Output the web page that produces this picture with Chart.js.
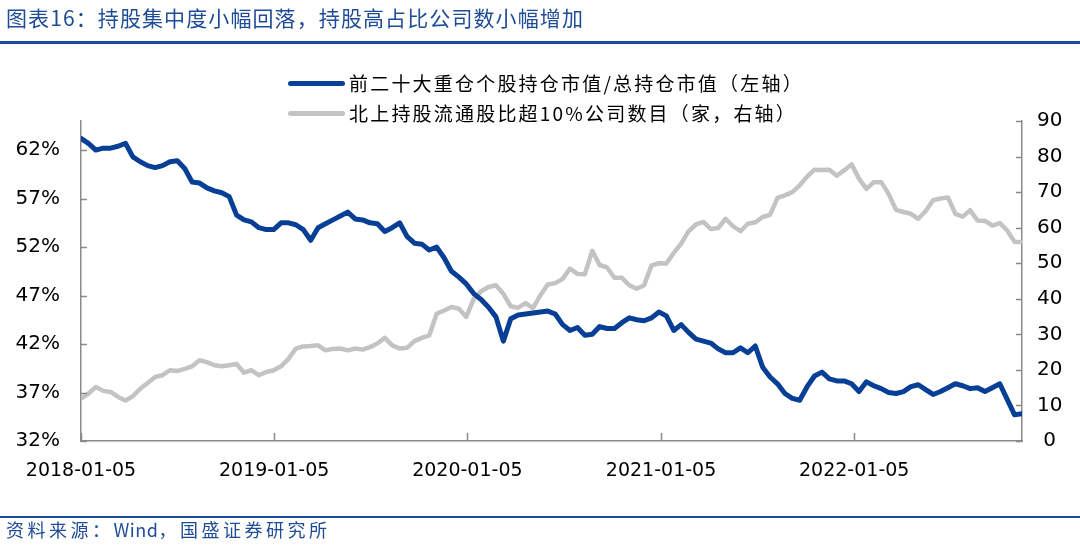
<!DOCTYPE html>
<html>
<head>
<meta charset="utf-8">
<script src="https://cdn.jsdelivr.net/npm/chart.js@4.4.0/dist/chart.umd.min.js"></script>
<style>
  body { margin: 0; width: 1080px; height: 549px; position: relative; background: #fff; overflow: hidden; }
  #title { position: absolute; left: 6px; top: 4px; font: 21px "Noto Sans CJK SC", sans-serif; line-height: 26px; color: #1F4C96; letter-spacing: 1.1px; white-space: nowrap; }
  .rule { position: absolute; left: 0; width: 1080px; background: #1B4C9B; }
  #legend { position: absolute; left: 288px; top: 68px; font: 19px "Noto Sans CJK SC", sans-serif; color: #000; letter-spacing: 2.2px; }
  #legend .row { height: 30px; line-height: 30px; display: flex; align-items: center; white-space: nowrap; }
  #legend .swatch { width: 57px; height: 5px; border-radius: 3px; margin-right: 4px; }
  #source { position: absolute; left: 6px; top: 517px; font: 18px "Noto Sans CJK SC", sans-serif; line-height: 24px; color: #1F4C96; letter-spacing: 3.5px; white-space: nowrap; }
  #source .latin { letter-spacing: 0.5px; }
  canvas { position: absolute; left: 0; top: 0; }
</style>
</head>
<body>
<canvas id="chart" width="1080" height="549"></canvas>
<div id="title">图表16：持股集中度小幅回落，持股高占比公司数小幅增加</div>
<div class="rule" style="top:41px;height:3px"></div>
<div id="legend">
  <div class="row"><span class="swatch" style="background:#083F96"></span><span>前二十大重仓个股持仓市值/总持仓市值（左轴）</span></div>
  <div class="row"><span class="swatch" style="background:#C3C3C3"></span><span>北上持股流通股比超10%公司数目（家，右轴）</span></div>
</div>
<div class="rule" style="top:516px;height:2px"></div>
<div id="source">资料来源：<span class="latin">Wind</span>，国盛证券研究所</div>

<script>
// first observation, data is read every two weeks from here
const START = "2018-01-05";

// 前二十大重仓个股持仓市值/总持仓市值 (%, left axis)
const top20Share = [
  63.2, 62.7, 62.0, 62.2, 62.2, 62.4, 62.7, 61.3, 60.8, 60.4,
  60.2, 60.4, 60.8, 60.9, 60.1, 58.7, 58.6, 58.1, 57.8, 57.6,
  57.2, 55.3, 54.8, 54.6, 54.0, 53.8, 53.8, 54.5, 54.5, 54.3,
  53.8, 52.7, 54.0, 54.4, 54.8, 55.2, 55.6, 54.9, 54.8, 54.5,
  54.4, 53.6, 54.0, 54.5, 53.1, 52.4, 52.3, 51.7, 52.0, 50.9,
  49.5, 48.9, 48.2, 47.2, 46.6, 45.8, 44.8, 42.3, 44.6, 45.0,
  45.1, 45.2, 45.3, 45.4, 45.1, 44.0, 43.4, 43.7, 42.9, 43.0,
  43.8, 43.6, 43.6, 44.2, 44.7, 44.5, 44.4, 44.7, 45.3, 44.9,
  43.4, 44.0, 43.2, 42.5, 42.3, 42.1, 41.5, 41.1, 41.1, 41.6,
  41.1, 41.8, 39.6, 38.6, 37.9, 36.9, 36.4, 36.2, 37.6, 38.7,
  39.1, 38.4, 38.2, 38.2, 37.9, 37.1, 38.1, 37.7, 37.4, 37.0,
  36.9, 37.1, 37.6, 37.8, 37.3, 36.8, 37.1, 37.5, 37.9, 37.7,
  37.4, 37.5, 37.1, 37.5, 37.9, 36.3, 34.7, 34.8
];

// 北上持股流通股比超10%公司数目 (家, right axis)
const northCount = [
  11.9, 13.3, 15.2, 14.1, 13.8, 12.4, 11.4, 12.6, 14.7, 16.3,
  18.0, 18.5, 19.9, 19.7, 20.3, 21.0, 22.7, 22.2, 21.3, 21.0,
  21.3, 21.7, 19.2, 19.9, 18.5, 19.4, 19.9, 21.0, 23.1, 26.0,
  26.6, 26.7, 26.9, 25.5, 25.9, 26.0, 25.5, 26.0, 25.7, 26.4,
  27.4, 29.0, 26.9, 26.0, 26.2, 28.1, 29.0, 29.7, 35.8, 36.7,
  37.7, 37.2, 34.9, 40.0, 42.1, 43.3, 43.8, 41.4, 37.9, 37.5,
  38.8, 37.4, 41.0, 44.0, 44.4, 45.6, 48.5, 47.0, 46.9, 53.5,
  49.5, 48.8, 45.9, 45.9, 43.8, 42.8, 43.8, 49.4, 50.0, 49.9,
  52.9, 55.5, 59.0, 60.9, 61.6, 59.6, 59.9, 62.5, 60.4, 59.0,
  61.1, 61.5, 63.0, 63.6, 68.4, 69.1, 70.0, 71.9, 74.4, 76.3,
  76.2, 76.3, 74.6, 76.1, 77.8, 73.8, 70.9, 72.8, 72.8, 69.5,
  65.0, 64.4, 63.9, 62.5, 64.7, 67.7, 68.2, 68.5, 63.9, 63.1,
  64.9, 62.0, 61.9, 60.6, 61.3, 59.2, 56.0, 56.0
];

// axis labels
const dateTicks = ["2018-01-05", "2019-01-05", "2020-01-05", "2021-01-05", "2022-01-05"];
const leftTicks = [32, 37, 42, 47, 52, 57, 62];
const rightTicks = [0, 10, 20, 30, 40, 50, 60, 70, 80, 90];

const AXIS_COLOR = "#8A8A8A";

function addDays(iso, n) {
  const d = new Date(iso + "T00:00:00Z");
  d.setUTCDate(d.getUTCDate() + n);
  return d.toISOString().slice(0, 10);
}

function dayOffset(iso) {
  return (Date.parse(iso) - Date.parse(START)) / 86400000;
}

// one date every two weeks for each reading
const dates = top20Share.map(function (v, i) { return addDays(START, 14 * i); });
const lastDay = dayOffset(dates[dates.length - 1]);

// Excel style tick marks that point into the plot
const inwardTicks = {
  id: "inwardTicks",
  afterDraw(chart) {
    const ctx = chart.ctx;
    const area = chart.chartArea;
    const yL = chart.scales.yL, yR = chart.scales.yR, x = chart.scales.x;
    ctx.save();
    ctx.strokeStyle = AXIS_COLOR;
    ctx.lineWidth = 1.5;
    ctx.beginPath();
    yL.ticks.forEach(function (t) {
      const y = Math.round(yL.getPixelForValue(t.value)) + 0.5;
      ctx.moveTo(area.left, y); ctx.lineTo(area.left + 6, y);
    });
    yR.ticks.forEach(function (t) {
      const y = Math.round(yR.getPixelForValue(t.value)) + 0.5;
      ctx.moveTo(area.right - 6, y); ctx.lineTo(area.right, y);
    });
    x.ticks.forEach(function (t) {
      const px = Math.round(x.getPixelForValue(t.value)) + 0.5;
      ctx.moveTo(px, area.bottom); ctx.lineTo(px, area.bottom - 8);
    });
    ctx.stroke();
    ctx.restore();
  }
};

const ctx = document.getElementById("chart").getContext("2d");

new Chart(ctx, {
  type: "line",
  data: {
    datasets: [
      {
        label: "前二十大重仓个股持仓市值/总持仓市值（左轴）",
        data: dates.map(function (d, i) { return { x: dayOffset(d), y: top20Share[i] }; }),
        yAxisID: "yL",
        borderColor: "#083F96",
        borderWidth: 5,
        order: 1
      },
      {
        label: "北上持股流通股比超10%公司数目（家，右轴）",
        data: dates.map(function (d, i) { return { x: dayOffset(d), y: northCount[i] }; }),
        yAxisID: "yR",
        borderColor: "#C3C3C3",
        borderWidth: 4.5,
        order: 2
      }
    ]
  },
  options: {
    responsive: false,
    animation: false,
    devicePixelRatio: 1,
    layout: { padding: { top: 121, left: 0, right: 0, bottom: 0 } },
    elements: {
      point: { radius: 0 },
      line: { tension: 0, borderJoinStyle: "round", borderCapStyle: "round" }
    },
    plugins: {
      legend: { display: false },
      tooltip: { enabled: false }
    },
    scales: {
      x: {
        type: "linear",
        min: 0,
        max: lastDay,
        afterFit: function (s) { s.height = 108; },
        afterBuildTicks: function (s) {
          s.ticks = dateTicks.map(function (d) { return { value: dayOffset(d) }; });
        },
        grid: { display: false, drawTicks: false },
        border: { display: true, color: AXIS_COLOR, width: 1.5 },
        ticks: {
          autoSkip: false,
          maxRotation: 0,
          padding: 19,
          color: "#000",
          font: { family: "DejaVu Sans", size: 19 },
          callback: function (v) {
            const hit = dateTicks.find(function (d) { return dayOffset(d) === v; });
            return hit || "";
          }
        }
      },
      yL: {
        position: "left",
        min: 32,
        max: 65,
        afterFit: function (s) { s.width = 81; },
        afterBuildTicks: function (s) {
          s.ticks = leftTicks.map(function (v) { return { value: v }; });
        },
        grid: { display: false, drawTicks: false },
        border: { display: true, color: AXIS_COLOR, width: 1.5 },
        ticks: {
          padding: 21,
          color: "#000",
          font: { family: "DejaVu Sans", size: 20 },
          callback: function (v) { return v + "%"; }
        }
      },
      yR: {
        position: "right",
        min: 0,
        max: 90,
        afterFit: function (s) { s.width = 58; },
        afterBuildTicks: function (s) {
          s.ticks = rightTicks.map(function (v) { return { value: v }; });
        },
        grid: { display: false, drawTicks: false },
        border: { display: true, color: AXIS_COLOR, width: 1.5 },
        ticks: {
          padding: 15,
          crossAlign: "center",
          color: "#000",
          font: { family: "DejaVu Sans", size: 20 }
        }
      }
    }
  },
  plugins: [inwardTicks]
});
</script>
</body>
</html>
